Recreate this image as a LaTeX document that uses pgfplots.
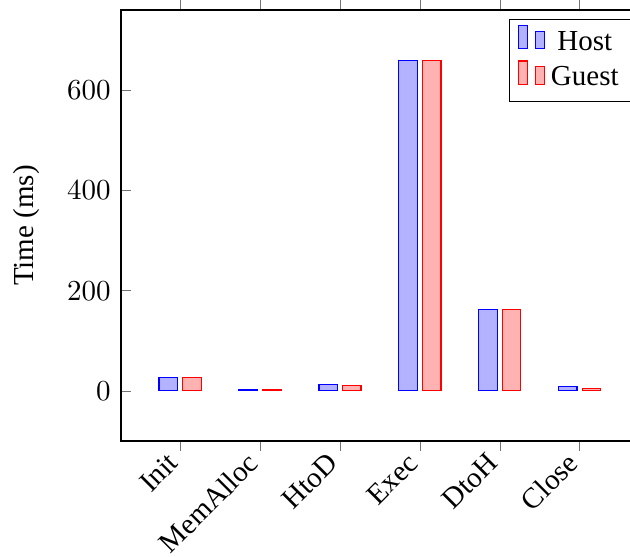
\documentclass[border=0pt]{standalone}
\usepackage{fontspec}
\setmainfont{Liberation Serif}
\usepackage{pgfplots}
\pgfplotsset{compat=1.18}
\usetikzlibrary{calc}
\begin{document}
\begin{tikzpicture}
\begin{axis}[
  scale only axis,
  width=180.4pt, height=148.6pt,
  ybar=1.9pt, bar width=6.3pt,
  xmin=-0.74, xmax=5.806,
  ymin=-100, ymax=760,
  xtick={0,1,2,3,4,5},
  xticklabels={Init,MemAlloc,HtoD,Exec,DtoH,Close},
  x tick label style={rotate=45,anchor=east},
  ytick={0,200,400,600},
  xtick align=outside,
  major tick length=3.5pt,
  tick style={black!55},
  ylabel={Time (ms)},
  ylabel shift=2.5pt,
  legend style={at={(0.98,0.98)},anchor=north east},
]
\addplot coordinates {(0,26) (1,2) (2,12.5) (3,660) (4,162) (5,8)};
\addplot coordinates {(0,26) (1,2) (2,10.5) (3,660) (4,162) (5,4)};
\legend{Host,Guest}
\coordinate (tl) at (rel axis cs:0,1);
\end{axis}
\pgfresetboundingbox
\path[use as bounding box] ($(tl)+(-41.7pt,3.45pt)$) rectangle ($(tl)+(175.5pt,-188.3pt)$);
\end{tikzpicture}
\end{document}
